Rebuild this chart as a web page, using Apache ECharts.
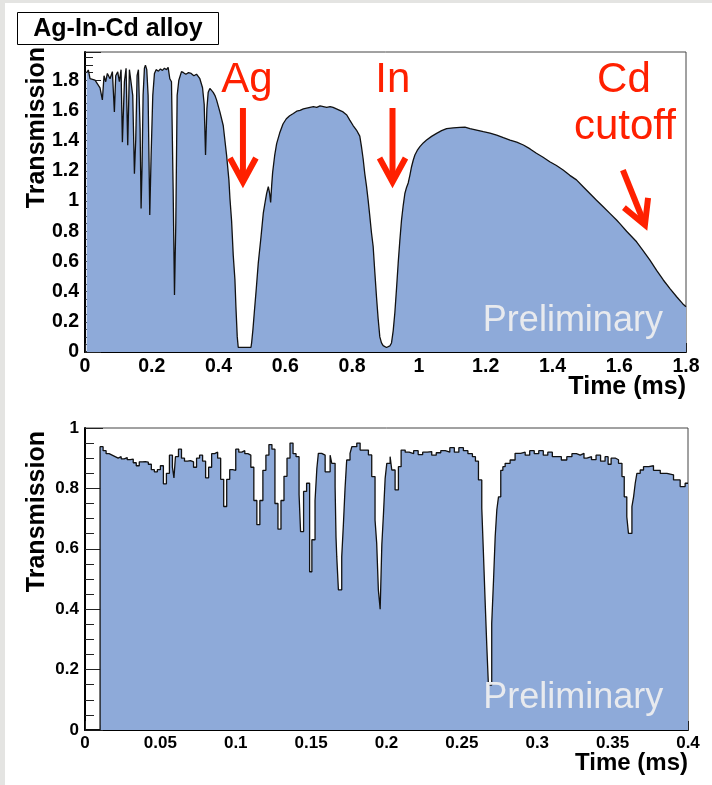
<!DOCTYPE html>
<html><head><meta charset="utf-8">
<script src="https://cdn.jsdelivr.net/npm/echarts@6/dist/echarts.min.js"></script>
<style>
html,body{margin:0;padding:0;background:#e4e4e2;width:712px;height:785px;overflow:hidden;}
#panel{position:absolute;left:5px;top:3px;right:0;bottom:0;background:#fff;}
#c{position:absolute;left:0;top:0;width:712px;height:785px;}
</style></head><body>
<div id="panel"></div>
<div id="c"></div>
<script>
// ---------- DATA ----------
const topTime = [0.005,0.010,0.015,0.030,0.045,0.052,0.057,0.062,0.067,0.075,0.082,0.088,0.092,0.098,0.103,0.108,0.112,0.118,0.123,0.128,0.133,0.138,0.143,0.148,0.152,0.156,0.160,0.165,0.168,0.171,0.174,0.178,0.181,0.185,0.189,0.194,0.198,0.203,0.208,0.213,0.220,0.226,0.232,0.238,0.244,0.249,0.254,0.259,0.264,0.268,0.272,0.276,0.281,0.289,0.295,0.302,0.310,0.318,0.326,0.334,0.339,0.344,0.352,0.357,0.361,0.365,0.369,0.374,0.379,0.384,0.389,0.394,0.404,0.414,0.424,0.431,0.434,0.439,0.444,0.449,0.452,0.456,0.459,0.497,0.499,0.503,0.507,0.513,0.519,0.527,0.534,0.540,0.544,0.549,0.553,0.556,0.559,0.562,0.568,0.574,0.583,0.593,0.603,0.613,0.624,0.634,0.644,0.654,0.664,0.674,0.684,0.694,0.704,0.714,0.724,0.734,0.743,0.753,0.763,0.773,0.784,0.793,0.803,0.813,0.823,0.828,0.833,0.838,0.843,0.848,0.853,0.858,0.863,0.868,0.873,0.878,0.883,0.888,0.893,0.903,0.913,0.918,0.923,0.928,0.933,0.938,0.943,0.948,0.953,0.958,0.963,0.968,0.973,0.978,0.983,0.988,0.995,1.003,1.013,1.023,1.038,1.053,1.068,1.083,1.103,1.123,1.138,1.153,1.173,1.193,1.213,1.233,1.253,1.273,1.293,1.313,1.333,1.352,1.372,1.392,1.412,1.432,1.452,1.472,1.492,1.512,1.532,1.552,1.572,1.592,1.602,1.622,1.652,1.672,1.692,1.712,1.732,1.752,1.772,1.790,1.800];
const topTrans = [1.85,1.868,1.81,1.80,1.75,1.67,1.83,1.79,1.845,1.81,1.857,1.59,1.83,1.855,1.79,1.87,1.39,1.79,1.879,1.37,1.87,1.879,1.70,1.18,1.41,1.83,1.87,1.48,0.95,1.24,1.70,1.88,1.90,1.87,1.70,0.907,1.30,1.70,1.845,1.87,1.86,1.875,1.865,1.88,1.87,1.885,1.81,1.79,1.08,0.378,0.86,1.70,1.80,1.857,1.85,1.84,1.85,1.845,1.83,1.84,1.83,1.81,1.75,1.64,1.305,1.61,1.72,1.746,1.74,1.72,1.70,1.67,1.59,1.50,1.305,1.14,1.02,0.87,0.64,0.48,0.30,0.10,0.03,0.03,0.06,0.15,0.26,0.42,0.59,0.76,0.92,1.00,1.05,1.095,1.05,0.99,1.10,1.19,1.30,1.38,1.45,1.51,1.545,1.565,1.58,1.595,1.60,1.61,1.615,1.62,1.625,1.62,1.63,1.625,1.62,1.625,1.62,1.61,1.60,1.59,1.57,1.536,1.50,1.47,1.43,1.36,1.28,1.18,1.10,1.006,0.90,0.79,0.70,0.53,0.366,0.22,0.10,0.06,0.042,0.03,0.04,0.06,0.14,0.26,0.42,0.59,0.74,0.874,0.97,1.05,1.09,1.12,1.17,1.227,1.27,1.305,1.335,1.36,1.385,1.404,1.428,1.448,1.466,1.48,1.485,1.488,1.49,1.48,1.47,1.459,1.45,1.437,1.42,1.404,1.39,1.371,1.345,1.316,1.29,1.26,1.235,1.205,1.17,1.14,1.095,1.05,1.005,0.962,0.918,0.874,0.85,0.80,0.73,0.67,0.609,0.54,0.477,0.42,0.366,0.32,0.30];

const botTime = [0,0.010,0.012,0.014,0.016,0.018,0.020,0.022,0.024,0.026,0.028,0.030,0.032,0.034,0.036,0.038,0.040,0.042,0.044,0.046,0.048,0.050,0.052,0.054,0.056,0.058,0.059,0.060,0.062,0.064,0.066,0.068,0.070,0.072,0.074,0.076,0.078,0.080,0.082,0.084,0.086,0.088,0.090,0.092,0.094,0.096,0.098,0.100,0.102,0.104,0.106,0.108,0.110,0.112,0.114,0.116,0.118,0.120,0.122,0.124,0.126,0.128,0.130,0.132,0.134,0.136,0.138,0.140,0.142,0.143,0.145,0.147,0.149,0.1505,0.1526,0.1538,0.1548,0.157,0.1593,0.1626,0.1637,0.1659,0.1665,0.1670,0.1681,0.1703,0.1714,0.1725,0.1736,0.1758,0.1770,0.1803,0.1825,0.1880,0.1902,0.1924,0.1935,0.1946,0.1958,0.1969,0.1980,0.1991,0.2002,0.2024,0.2035,0.2057,0.2079,0.2097,0.2124,0.215,0.218,0.221,0.224,0.227,0.230,0.233,0.236,0.239,0.242,0.245,0.248,0.251,0.254,0.257,0.259,0.261,0.2632,0.2643,0.2654,0.2665,0.2676,0.2698,0.2710,0.2721,0.2732,0.2743,0.2758,0.2772,0.2787,0.2820,0.2853,0.289,0.292,0.295,0.298,0.301,0.304,0.307,0.310,0.313,0.316,0.3196,0.323,0.326,0.3285,0.331,0.3329,0.336,0.339,0.342,0.345,0.347,0.349,0.352,0.3539,0.3562,0.3577,0.3594,0.3605,0.3628,0.3639,0.3650,0.3661,0.3683,0.3705,0.374,0.3771,0.3816,0.3860,0.3904,0.3948,0.3981,0.400];
const botTrans = [0,0.938,0.925,0.915,0.91,0.905,0.90,0.905,0.898,0.902,0.895,0.897,0.885,0.875,0.888,0.889,0.887,0.880,0.862,0.855,0.862,0.875,0.815,0.85,0.91,0.87,0.835,0.905,0.93,0.90,0.89,0.892,0.888,0.87,0.90,0.91,0.89,0.835,0.87,0.915,0.92,0.90,0.83,0.74,0.83,0.862,0.86,0.93,0.92,0.925,0.915,0.91,0.87,0.76,0.68,0.76,0.86,0.91,0.945,0.93,0.75,0.665,0.76,0.84,0.90,0.95,0.915,0.905,0.78,0.657,0.79,0.817,0.524,0.63,0.76,0.866,0.916,0.91,0.855,0.91,0.883,0.806,0.64,0.574,0.464,0.574,0.68,0.80,0.894,0.916,0.938,0.95,0.927,0.911,0.839,0.695,0.618,0.464,0.40,0.613,0.717,0.833,0.883,0.905,0.861,0.795,0.872,0.927,0.92,0.915,0.925,0.912,0.92,0.922,0.91,0.918,0.925,0.92,0.935,0.92,0.935,0.925,0.915,0.905,0.89,0.828,0.735,0.585,0.43,0.282,0.149,0.353,0.497,0.64,0.73,0.772,0.86,0.872,0.883,0.894,0.916,0.92,0.91,0.925,0.915,0.925,0.91,0.92,0.905,0.905,0.894,0.905,0.915,0.91,0.916,0.90,0.905,0.895,0.91,0.89,0.905,0.88,0.90,0.895,0.883,0.839,0.772,0.706,0.651,0.74,0.772,0.817,0.85,0.861,0.872,0.875,0.86,0.85,0.845,0.828,0.806,0.817,0.817];

const topXTicks = [0,0.2,0.4,0.6,0.8,1,1.2,1.4,1.6,1.8];
const topYTicks = [0,0.2,0.4,0.6,0.8,1,1.2,1.4,1.6,1.8];
const botXTicks = [0,0.05,0.1,0.15,0.2,0.25,0.3,0.35,0.4];
const botYTicks = [0,0.2,0.4,0.6,0.8,1];

// ---------- STYLE ----------
const FONT = '"Liberation Sans", Arial, Helvetica, sans-serif';
const FILL = '#8eaad9';
const RED = '#ff2000';

function xAxisCfg(grid, max, interval, minorSplit, ticks, fs) {
  return {
    type: 'value', gridIndex: grid, min: 0, max: max, interval: interval,
    axisLine: { show: true, onZero: false, lineStyle: { color: '#000', width: 2 } },
    axisTick: { show: true, inside: true, length: 9, lineStyle: { color: '#222', width: 1 } },
    minorTick: { show: true, splitNumber: minorSplit, length: 5, lineStyle: { color: '#222', width: 1 } },
    splitLine: { show: false },
    axisLabel: { customValues: ticks, color: '#000', fontWeight: 'bold', fontSize: fs, fontFamily: FONT, margin: 5 }
  };
}
function yAxisCfg(grid, max, interval, ticks, fs, tl) {
  return {
    type: 'value', gridIndex: grid, min: 0, max: max, interval: interval,
    axisLine: { show: true, onZero: false, lineStyle: { color: '#000', width: 2 } },
    axisTick: { show: true, inside: true, length: tl, lineStyle: { color: '#222', width: 1 } },
    minorTick: { show: true, splitNumber: 4, length: tl / 2, lineStyle: { color: '#222', width: 1 } },
    splitLine: { show: false },
    axisLabel: { customValues: ticks, color: '#000', fontWeight: 'bold', fontSize: fs, fontFamily: FONT, margin: 6 }
  };
}

const topData = topTime.map((t, i) => [t, topTrans[i]]);
const botData = botTime.map((t, i) => [t, botTrans[i]]);

const chart = echarts.init(document.getElementById('c'), null, { renderer: 'canvas' });
const option = {
  animation: false,
  backgroundColor: 'transparent',
  grid: [
    { left: 85, right: 26, top: 52, height: 300, show: true, borderColor: '#444', borderWidth: 1, backgroundColor: '#fff', outerBoundsMode: 'none', containLabel: false },
    { left: 85, right: 24, top: 428, height: 302, show: true, borderColor: '#444', borderWidth: 1, backgroundColor: '#fff', outerBoundsMode: 'none', containLabel: false }
  ],
  xAxis: [
    xAxisCfg(0, 1.8, 0.2, 4, topXTicks, 19.5),
    xAxisCfg(1, 0.4, 0.05, 5, botXTicks, 17)
  ],
  yAxis: [
    yAxisCfg(0, 1.987, 0.2, topYTicks, 19.5, 16),
    yAxisCfg(1, 1, 0.2, botYTicks, 17, 18)
  ],
  series: [
    { type: 'line', xAxisIndex: 0, yAxisIndex: 0, symbol: 'none', data: topData,
      lineStyle: { color: '#111', width: 1.3 }, areaStyle: { color: FILL, opacity: 1 }, z: 1 },
    { type: 'line', xAxisIndex: 1, yAxisIndex: 1, step: 'end', symbol: 'none', data: botData,
      lineStyle: { color: '#111', width: 1.3 }, areaStyle: { color: FILL, opacity: 1 }, z: 1 }
  ]
};
chart.setOption(option);

// ---------- ANNOTATIONS (anchored in data coordinates) ----------
const P0 = p => chart.convertToPixel({ gridIndex: 0 }, p);
const P1 = p => chart.convertToPixel({ gridIndex: 1 }, p);

function txt(pos, text, opts) {
  return { type: 'text', x: pos[0], y: pos[1], z: 100, silent: true,
    style: Object.assign({ text: text, fontFamily: FONT, fill: '#000' }, opts) };
}
function line(points, color, w) {
  return { type: 'polyline', z: 100, silent: true, shape: { points: points },
    style: { stroke: color, lineWidth: w, fill: null, lineCap: 'butt', lineJoin: 'miter' } };
}
function arrow(from, to, headLen, headHalf) {
  const dx = to[0] - from[0], dy = to[1] - from[1];
  const L = Math.hypot(dx, dy), ux = dx / L, uy = dy / L;
  const bx = to[0] - ux * headLen, by = to[1] - uy * headLen;
  const px = -uy, py = ux;
  return [
    line([from, [to[0] - ux * 3, to[1] - uy * 3]], RED, 6),
    line([[bx + px * headHalf, by + py * headHalf], to, [bx - px * headHalf, by - py * headHalf]], RED, 6)
  ];
}

const g = [];
// title box
g.push({ type: 'rect', z: 100, silent: true, shape: { x: 17.5, y: 12.5, width: 201, height: 32 }, style: { fill: '#fff', stroke: '#000', lineWidth: 1 } });
g.push(txt([118, 29], 'Ag-In-Cd alloy', { fontSize: 25, fontWeight: 'bold', align: 'center', verticalAlign: 'middle' }));
// axis titles
const t0 = P0([1.8, 0]), t1 = P1([0.4, 0]);
g.push(txt([t0[0], t0[1] + 23], 'Time (ms)', { fontSize: 25, fontWeight: 'bold', align: 'right', verticalAlign: 'top' }));
g.push(txt([t1[0], t1[1] + 21], 'Time (ms)', { fontSize: 24, fontWeight: 'bold', align: 'right', verticalAlign: 'top' }));
const y0 = P0([0, 1.987]), y1 = P1([0, 1]);
g.push(Object.assign(txt([25, y0[1] - 5], 'Transmission', { fontSize: 25, fontWeight: 'bold', align: 'right', verticalAlign: 'top' }), { rotation: Math.PI / 2 }));
g.push(Object.assign(txt([25, y1[1] + 3], 'Transmission', { fontSize: 25, fontWeight: 'bold', align: 'right', verticalAlign: 'top' }), { rotation: Math.PI / 2 }));
// labels & arrows in the top panel
const redText = { fontSize: 42, fill: RED, align: 'center', verticalAlign: 'middle' };
g.push(txt(P0([0.485, 1.80]), 'Ag', redText));
g.push(txt(P0([0.922, 1.80]), 'In', redText));
g.push(txt(P0([1.614, 1.80]), 'Cd', redText));
g.push(txt(P0([1.617, 1.49]), 'cutoff', redText));
g.push(...arrow(P0([0.473, 1.616]), P0([0.473, 1.126]), 24, 13));
g.push(...arrow(P0([0.921, 1.616]), P0([0.921, 1.126]), 24, 13));
g.push(...arrow(P0([1.611, 1.205]), P0([1.677, 0.841]), 24, 13));
// Preliminary watermarks
const prelim = { fontSize: 36, fill: '#e8eaee', align: 'left', verticalAlign: 'middle' };
g.push(txt(P0([1.1916, 0.205]), 'Preliminary', prelim));
g.push(txt(P1([0.2641, 0.106]), 'Preliminary', prelim));

chart.setOption({ graphic: g });
</script>
</body></html>
